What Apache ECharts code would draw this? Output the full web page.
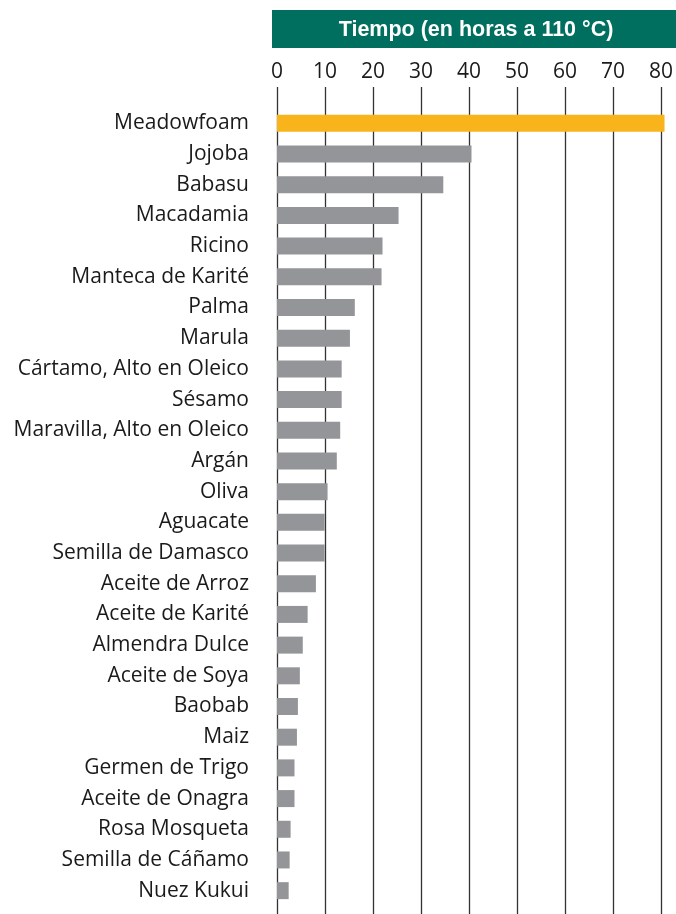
<!DOCTYPE html>
<html>
<head>
<meta charset="utf-8">
<script src="https://cdn.jsdelivr.net/npm/echarts@6/dist/echarts.min.js"></script>
<style>
  html, body { margin: 0; padding: 0; background: #fff; }
  #main { width: 676px; height: 914px; }
</style>
</head>
<body>
<div id="main"></div>
<script>
const categories = [
  "Meadowfoam", "Jojoba", "Babasu", "Macadamia", "Ricino", "Manteca de Karité",
  "Palma", "Marula", "Cártamo, Alto en Oleico", "Sésamo", "Maravilla, Alto en Oleico",
  "Argán", "Oliva", "Aguacate", "Semilla de Damasco", "Aceite de Arroz",
  "Aceite de Karité", "Almendra Dulce", "Aceite de Soya", "Baobab", "Maiz",
  "Germen de Trigo", "Aceite de Onagra", "Rosa Mosqueta", "Semilla de Cáñamo", "Nuez Kukui"
];
const hours = [
  79.7, 40, 34.2, 25, 21.7, 21.5,
  16, 15, 13.3, 13.3, 13,
  12.3, 10.4, 9.8, 9.8, 8,
  6.3, 5.3, 4.7, 4.3, 4.1,
  3.6, 3.6, 2.8, 2.6, 2.4
];
const axisTitle = "Tiempo (en horas a 110 °C)";

const FONT = "'Open Sans', 'Noto Sans', sans-serif";

const options = {
  animation: false,
  backgroundColor: "#fff",
  graphic: [
    {
      type: "rect",
      shape: { x: 272, y: 10, width: 404, height: 38 },
      style: { fill: "#006f5f" }
    },
    {
      type: "text",
      x: 476,
      y: 30,
      style: {
        text: axisTitle,
        fill: "#fff",
        font: "bold 21.5px 'Liberation Sans', Arial, sans-serif",
        align: "center",
        verticalAlign: "middle"
      }
    }
  ],
  grid: [
    { left: 277, right: 10, top: 87, bottom: 0 },
    { left: 277, right: 10, top: 108, height: 798 }
  ],
  xAxis: [
    {
      gridIndex: 0,
      type: "value",
      position: "top",
      min: 0,
      max: 80,
      interval: 10,
      axisLine: { show: false },
      axisTick: { show: false },
      axisLabel: { fontSize: 21, fontFamily: FONT, color: "#1a1a1a", margin: 4 },
      splitLine: { show: true, lineStyle: { color: "#333", width: 1.3 } }
    },
    {
      gridIndex: 1,
      type: "value",
      min: 0,
      max: 80,
      show: false
    }
  ],
  yAxis: [
    { gridIndex: 0, type: "value", show: false },
    {
      gridIndex: 1,
      type: "category",
      inverse: true,
      data: categories,
      axisLine: { show: false },
      axisTick: { show: false },
      axisLabel: { fontSize: 21, fontFamily: FONT, color: "#1a1a1a", margin: 28 }
    }
  ],
  series: [
    {
      type: "bar",
      xAxisIndex: 1,
      yAxisIndex: 1,
      barWidth: 17,
      data: hours,
      itemStyle: {
        color: (p) => (p.dataIndex === 0 ? "#f9b41b" : "#939598")
      }
    }
  ]
};

const myChart = echarts.init(document.getElementById("main"));
myChart.setOption(options);
</script>
</body>
</html>
